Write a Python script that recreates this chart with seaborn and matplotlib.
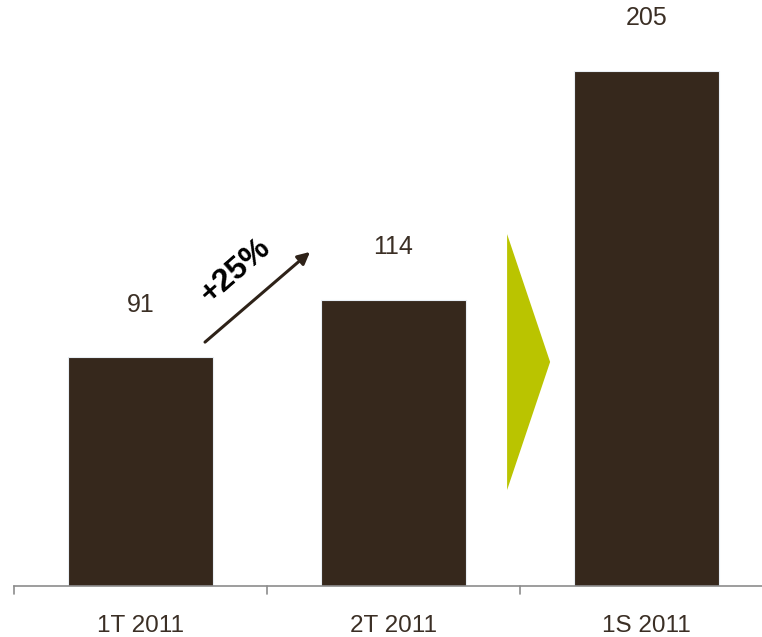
import matplotlib
matplotlib.use("Agg")
import matplotlib.pyplot as plt
import seaborn as sns
import pandas as pd
from matplotlib.patches import Polygon

categories = ["1T 2011", "2T 2011", "1S 2011"]
values = [91, 114, 205]
growth_label = "+25%"

bar_color = "#36281c"
text_color = "#3b2f25"
accent = "#bac400"

sns.set_theme(style="white")
plt.rcParams["font.family"] = ["Liberation Sans", "DejaVu Sans"]

df = pd.DataFrame({"period": categories, "value": values})

W, H = 762, 637
fig = plt.figure(figsize=(W / 100, H / 100), dpi=100)
ax_left, ax_right, ax_bottom = 14, 762, 586
ax = fig.add_axes([ax_left / W, (H - ax_bottom) / H, (ax_right - ax_left) / W, ax_bottom / H])

sns.barplot(data=df, x="period", y="value", color=bar_color, width=0.57,
            saturation=1, edgecolor="#e8eef4", linewidth=0.8, ax=ax)

ax.set_xlim(-0.5, -0.5 + (ax_right - ax_left) / 253)
ax.set_ylim(0, 233.3)

# value labels above bars
for i, v in enumerate(values):
    ax.annotate(f"{v}", (i, v), xytext=(0, 38), textcoords="offset points",
                ha="center", va="center", fontsize=18, color=text_color)

# category labels below axis
ax.set_xticks(range(len(categories)))
ax.set_xticklabels(categories, fontsize=17.5, color=text_color)
ax.tick_params(axis="x", length=0, pad=21)
ax.set_xlabel("")
ax.set_ylabel("")
ax.set_yticks([])

# boundary tick marks between categories
for xb in [-0.5, 0.5, 1.5]:
    ax.plot([xb, xb], [0, -3.3], color="#8c8c8c", lw=1.2, clip_on=False)

for side in ["top", "right", "left"]:
    ax.spines[side].set_visible(False)
ax.spines["bottom"].set_color("#8c8c8c")
ax.spines["bottom"].set_linewidth(1.2)

# growth arrow between the first two periods
ax.annotate("", xy=(0.670, 133.0), xytext=(0.255, 97.1),
            arrowprops=dict(arrowstyle="-|>", color="#2e2218", lw=2.2,
                            mutation_scale=18, shrinkA=0, shrinkB=0))
ax.text(0.375, 125.5, growth_label, rotation=41, ha="center", va="center",
        fontsize=23, fontweight="bold", color="black")

# chevron leading to the half-year total
ax.add_patch(Polygon([(1.449, 140.1), (1.619, 89.2), (1.449, 38.2)],
                     closed=True, facecolor=accent, edgecolor="none"))

fig.savefig("out.png", dpi=100)
